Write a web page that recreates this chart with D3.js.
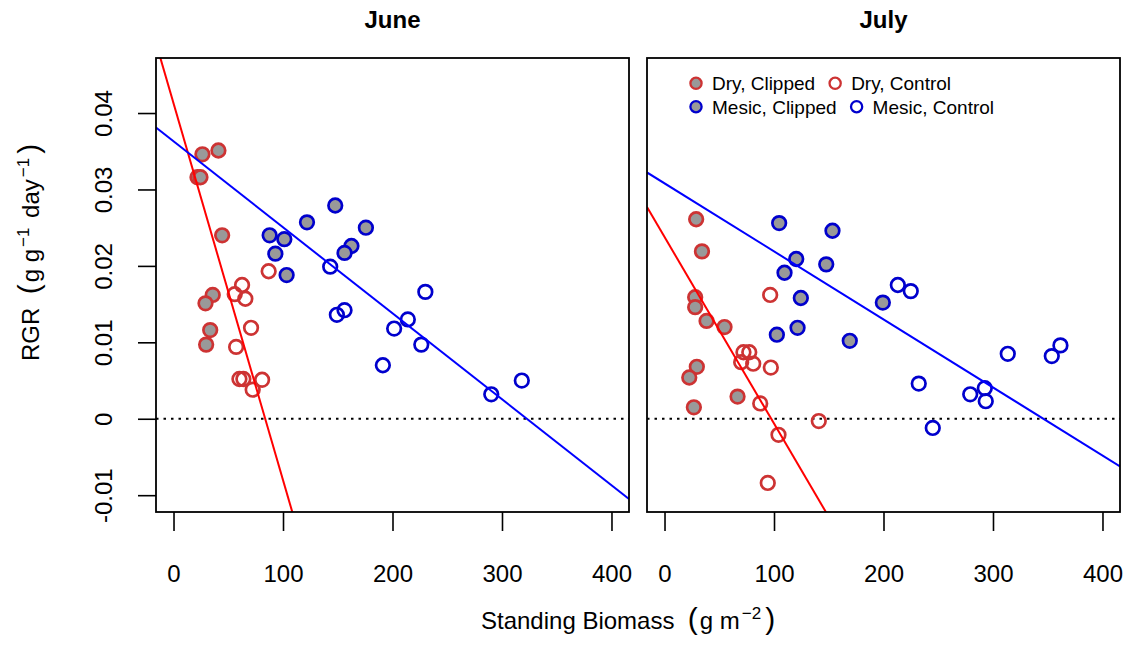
<!DOCTYPE html>
<html>
<head>
<meta charset="utf-8">
<script src="https://cdn.jsdelivr.net/npm/d3@7"></script>
<style>
body { margin: 0; background: #fff; }
svg { display: block; font-family: "Liberation Sans", Arial, sans-serif; }
</style>
</head>
<body>
<svg id="chart" width="1129" height="651"></svg>
<script>
// values: [biomass, RGR]
const juneDryClipped = [[26.4,0.0346],[41.0,0.0351],[21.9,0.0316],[24.6,0.0316],[44.4,0.0240],
  [35.8,0.0162],[29.2,0.0151],[33.5,0.0116],[29.8,0.0097]];
const juneDryControl = [[86.9,0.0193],[62.6,0.0175],[55.9,0.0163],[65.6,0.0157],[70.8,0.0119],
  [57.2,0.0094],[60.2,0.0052],[63.8,0.0052],[80.9,0.0051],[72.3,0.0038]];
const juneMesicClipped = [[87.8,0.0240],[101.2,0.0235],[93.0,0.0216],[103.3,0.0188],[121.9,0.0257],
  [147.7,0.0279],[175.7,0.0250],[162.5,0.0226],[156.2,0.0217]];
const juneMesicControl = [[143.1,0.0199],[149.2,0.0136],[156.2,0.0142],[230.0,0.0166],[214.0,0.0130],
  [201.5,0.0118],[226.3,0.0097],[191.2,0.0070],[318.1,0.0050],[290.2,0.0032]];

const julyDryClipped = [[28.9,0.0261],[34.2,0.0219],[28.0,0.0159],[28.0,0.0146],[38.4,0.0128],
  [54.8,0.0120],[29.5,0.0068],[22.6,0.0054],[66.7,0.0029],[26.8,0.0015]];
const julyDryControl = [[96.5,0.0162],[72.1,0.0087],[77.4,0.0087],[70.0,0.0074],[81.0,0.0072],
  [97.1,0.0067],[87.4,0.0020],[140.9,-0.0003],[104.1,-0.0021],[94.3,-0.0084]];
const julyMesicClipped = [[104.7,0.0256],[153.4,0.0246],[120.3,0.0209],[109.6,0.0191],[147.7,0.0202],
  [124.5,0.0158],[102.6,0.0110],[121.5,0.0119],[169.2,0.0102],[199.4,0.0152]];
const julyMesicControl = [[213.1,0.0175],[224.9,0.0167],[313.5,0.0085],[353.7,0.0082],[361.6,0.0096],
  [232.2,0.0046],[279.2,0.0032],[292.5,0.0040],[293.4,0.0023],[245.0,-0.0012]];

// fitted lines: [intercept, slope]
const juneDryFit = [0.04128, -0.000493];
const juneMesicFit = [0.0363, -0.0001125];
const julyDryFit = [0.02379, -0.0002442];
const julyMesicFit = [0.0308, -0.0000890];

const xTicks = [0, 100, 200, 300, 400];
const yTicks = [-0.01, 0, 0.01, 0.02, 0.03, 0.04];
const yTickLabels = ['-0.01', '0', '0.01', '0.02', '0.03', '0.04'];
const legendRows = [['Dry, Clipped', 'Dry, Control'], ['Mesic, Clipped', 'Mesic, Control']];

const DRY = '#CD3333', MESIC = '#0000CD', GRAY = '#999999';

const svg = d3.select('#chart');
const plotTop = 58, height = 454, width = 473;

const x = d3.scaleLinear().domain([-16, 416]).range([0, width]);
const y = d3.scaleLinear().domain([-0.0122, 0.0472]).range([height, 0]);

const panels = [
  { title: 'June', left: 156, yAxis: true, legend: false,
    series: [[juneDryClipped, DRY, GRAY], [juneDryControl, DRY, 'none'],
             [juneMesicClipped, MESIC, GRAY], [juneMesicControl, MESIC, 'none']],
    fits: [[juneDryFit, 'red'], [juneMesicFit, 'blue']] },
  { title: 'July', left: 647, yAxis: false, legend: true,
    series: [[julyDryClipped, DRY, GRAY], [julyDryControl, DRY, 'none'],
             [julyMesicClipped, MESIC, GRAY], [julyMesicControl, MESIC, 'none']],
    fits: [[julyDryFit, 'red'], [julyMesicFit, 'blue']] }
];

panels.forEach((p, i) => {
  const g = svg.append('g').attr('transform', `translate(${p.left},${plotTop})`);

  const clipId = 'clip' + i;
  g.append('clipPath').attr('id', clipId)
    .append('rect').attr('width', width).attr('height', height);

  // title
  g.append('text')
    .attr('x', width / 2).attr('y', 28 - plotTop)
    .attr('text-anchor', 'middle')
    .style('font-size', '24px').style('font-weight', 'bold')
    .text(p.title);

  // x axis
  const xa = g.append('g')
    .attr('transform', `translate(0,${height})`)
    .call(d3.axisBottom(x).tickValues(xTicks).tickSize(19).tickSizeOuter(0).tickFormat(d3.format('d')));
  xa.select('.domain').remove();
  xa.selectAll('line').attr('stroke', '#000').attr('stroke-width', 1.6);
  xa.selectAll('text').attr('y', 70).attr('dy', null)
    .attr('fill', '#000').style('font-size', '24px').style('font-family', 'inherit');

  if (p.yAxis) {
    const ya = g.append('g')
      .call(d3.axisLeft(y).tickValues(yTicks).tickSize(18).tickSizeOuter(0)
        .tickFormat((d, j) => yTickLabels[j]));
    ya.select('.domain').remove();
    ya.selectAll('line').attr('stroke', '#000').attr('stroke-width', 1.6);
    ya.selectAll('text')
      .attr('x', null).attr('dy', null)
      .attr('transform', 'translate(-44,0) rotate(-90)')
      .attr('text-anchor', 'middle')
      .attr('fill', '#000').style('font-size', '24px').style('font-family', 'inherit');
  }

  const plot = g.append('g').attr('clip-path', `url(#${clipId})`);

  // zero line
  plot.append('line')
    .attr('x1', 0).attr('x2', width)
    .attr('y1', y(0)).attr('y2', y(0))
    .attr('stroke', '#000').attr('stroke-width', 2)
    .attr('stroke-dasharray', '2.5,5');

  // points
  p.series.forEach(([pts, col, fill]) => {
    plot.selectAll(null).data(pts).enter().append('circle')
      .attr('cx', d => x(d[0])).attr('cy', d => y(d[1]))
      .attr('r', 6.8)
      .attr('fill', fill).attr('stroke', col).attr('stroke-width', 2.7);
  });

  // regression lines
  p.fits.forEach(([f, col]) => {
    const xs = x.domain();
    plot.append('line')
      .attr('x1', x(xs[0])).attr('y1', y(f[0] + f[1] * xs[0]))
      .attr('x2', x(xs[1])).attr('y2', y(f[0] + f[1] * xs[1]))
      .attr('stroke', col).attr('stroke-width', 2);
  });

  // box
  g.append('rect').attr('width', width).attr('height', height)
    .attr('fill', 'none').attr('stroke', '#000').attr('stroke-width', 1.8);

  if (p.legend) {
    const colors = [DRY, MESIC];
    legendRows.forEach((row, r) => {
      const cy = 83.3 - plotTop + r * 23.4;
      let mx = 49;
      row.forEach((label, k) => {
        g.append('circle').attr('cx', mx).attr('cy', cy).attr('r', 5.6)
          .attr('fill', k === 0 ? GRAY : 'none')
          .attr('stroke', colors[r]).attr('stroke-width', 2.3);
        const t = g.append('text').attr('x', mx + 16).attr('y', cy + 6.8)
          .style('font-size', '19px').text(label);
        mx = mx + 16 + t.node().getComputedTextLength() + 20;
      });
    });
  }
});

// axis titles
const yt = svg.append('text')
  .attr('transform', 'translate(38.5,361) rotate(-90)')
  .style('font-size', '24px');
yt.append('tspan').text('RGR\u00a0\u00a0');
yt.append('tspan').style('font-size', '30px').text('(');
yt.append('tspan').attr('dx', 2).text('g g');
yt.append('tspan').attr('dy', -10).attr('dx', 2).style('font-size', '17px').text('\u22121');
yt.append('tspan').attr('dy', 10).attr('dx', 3).text(' day');
yt.append('tspan').attr('dy', -10).attr('dx', 2).style('font-size', '17px').text('\u22121');
yt.append('tspan').attr('dy', 10).attr('dx', 4).style('font-size', '30px').text(')');

const xt = svg.append('text')
  .attr('x', 481).attr('y', 629)
  .style('font-size', '24px');
xt.append('tspan').text('Standing Biomass\u00a0\u00a0');
xt.append('tspan').style('font-size', '30px').text('(');
xt.append('tspan').attr('dx', 2).text('g m');
xt.append('tspan').attr('dy', -10).attr('dx', 2).style('font-size', '17px').text('\u22122');
xt.append('tspan').attr('dy', 10).attr('dx', 4).style('font-size', '30px').text(')');
</script>
</body>
</html>
